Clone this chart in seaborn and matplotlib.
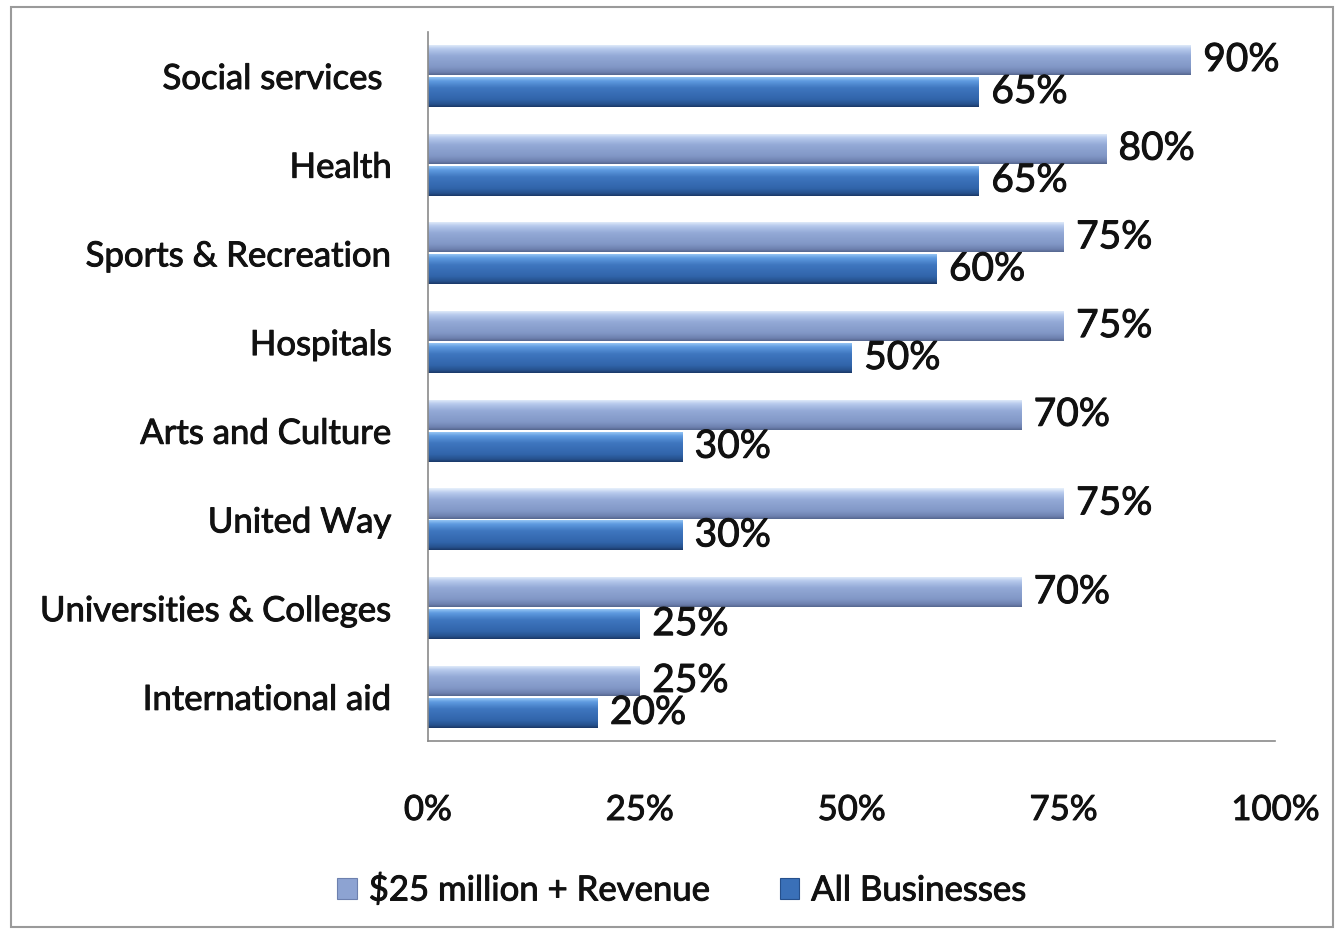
import numpy as np
import pandas as pd
import matplotlib
matplotlib.use("Agg")
import matplotlib.pyplot as plt
import matplotlib.patheffects as pe
from matplotlib.colors import LinearSegmentedColormap
from matplotlib.patches import Patch, Rectangle
import seaborn as sns

categories = ["Social services ", "Health", "Sports & Recreation", "Hospitals",
              "Arts and Culture", "United Way", "Universities & Colleges",
              "International aid"]
series_names = ["$25 million + Revenue", "All Businesses"]
large_revenue = [90, 80, 75, 75, 70, 75, 70, 25]
all_businesses = [65, 65, 60, 50, 30, 30, 25, 20]
x_ticks = [0, 25, 50, 75, 100]

df = pd.DataFrame({
    "category": categories * 2,
    "series": [series_names[0]] * len(categories) + [series_names[1]] * len(categories),
    "value": large_revenue + all_businesses,
})

sns.set_theme(style="white")
plt.rcParams["font.family"] = ["Lato", "DejaVu Sans"]

text_color = "#111111"
heavy = [pe.withStroke(linewidth=0.7, foreground=text_color)]

fig = plt.figure(figsize=(13.37, 9.30), dpi=100)
ax = fig.add_axes([0.320, 0.203, 0.634, 0.763])

mid_colors = ["#8da3d2", "#3a70b8"]
sns.barplot(data=df, y="category", x="value", hue="series", hue_order=series_names,
            order=categories, orient="h", palette=mid_colors, width=0.72,
            gap=0.06, legend=False, ax=ax, saturation=1)

# glossy vertical gradients for each bar, clipped to the bar rectangle
light_cmap = LinearSegmentedColormap.from_list(
    "light", [(0, "#e8f1fc"), (0.15, "#b6c9ec"), (0.38, "#93a9d6"),
              (0.75, "#8197c6"), (0.92, "#6d80ae"), (1, "#55668f")])
dark_cmap = LinearSegmentedColormap.from_list(
    "dark", [(0, "#a2cff8"), (0.15, "#5f9be0"), (0.38, "#3f76bf"),
             (0.75, "#3165ab"), (0.92, "#26508c"), (1, "#1a3867")])
grad = np.linspace(0, 1, 64).reshape(-1, 1)

bars = [p for p in ax.patches if isinstance(p, Rectangle)]
n = len(categories)
for i, p in enumerate(bars):
    cmap = light_cmap if i < n else dark_cmap
    x0, y0, w, h = p.get_x(), p.get_y(), p.get_width(), p.get_height()
    im = ax.imshow(grad, cmap=cmap, aspect="auto", extent=[x0, x0 + w, y0 + h, y0],
                   zorder=p.get_zorder() + 0.1, interpolation="bicubic")
    im.set_clip_path(p)
    p.set_edgecolor("none")

ax.set_xlim(0, 100)
ax.set_ylim(n - 0.5, -0.5)

# value labels at the bar ends
for container in ax.containers:
    for t in ax.bar_label(container, labels=[f"{v:.0f}%" for v in container.datavalues],
                          padding=9, fontsize=28, color=text_color, zorder=5):
        t.set_path_effects(heavy)

ax.set_xticks(x_ticks)
ax.set_xticklabels([f"{t}%" for t in x_ticks], fontsize=25, color=text_color)
ax.tick_params(axis="x", pad=38, length=0)
ax.tick_params(axis="y", pad=26, length=0, labelsize=25, labelcolor=text_color)
for t in ax.get_xticklabels() + ax.get_yticklabels():
    t.set_path_effects(heavy)
ax.set_xlabel("")
ax.set_ylabel("")

for side in ["top", "right"]:
    ax.spines[side].set_visible(False)
for side in ["left", "bottom"]:
    ax.spines[side].set_color("#8a8a8a")
    ax.spines[side].set_linewidth(1.2)
ax.grid(False)

handles = [Patch(facecolor=mid_colors[0], edgecolor="#6d80ae", linewidth=0.8),
           Patch(facecolor=mid_colors[1], edgecolor="#26508c", linewidth=0.8)]
leg = fig.legend(handles, series_names, loc="center", bbox_to_anchor=(0.51, 0.043),
                 ncol=2, frameon=False, fontsize=25, handlelength=0.55, handleheight=0.55,
                 handletextpad=0.35, columnspacing=2.0)
for t in leg.get_texts():
    t.set_color(text_color)
    t.set_path_effects(heavy)

# outer chart frame
fig.add_artist(Rectangle((11 / 1337, 3 / 930), 1322 / 1337, 920 / 930,
                         transform=fig.transFigure, fill=False,
                         edgecolor="#9a9a9a", linewidth=1.5))

fig.savefig("out.png", dpi=100, facecolor="white")
